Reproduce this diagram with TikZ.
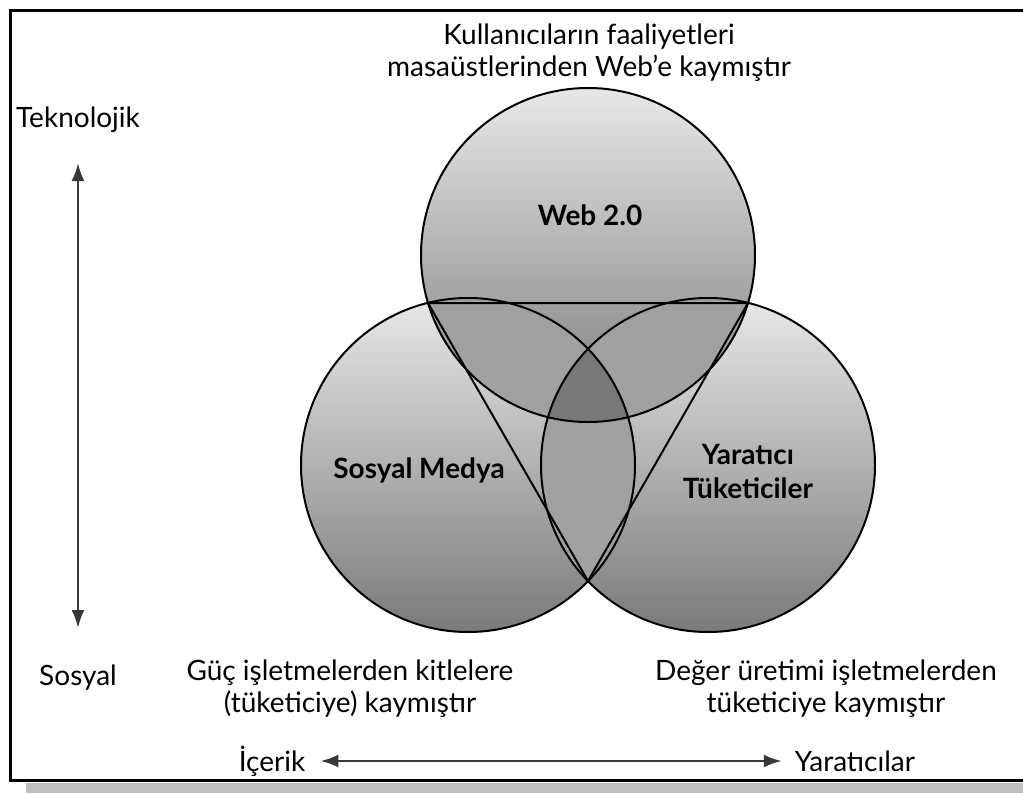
\documentclass[tikz,border=0pt]{standalone}
\usepackage{fontspec}
\setmainfont{Lato}
\usetikzlibrary{arrows.meta}

\begin{document}
\begin{tikzpicture}[x=1pt,y=-1pt,
         disk/.style={top color=black!9,bottom color=black!52},
         overlap/.style={fill=black!37},
         core/.style={fill=black!53},
         rim/.style={draw=black,line width=2pt},
         txt/.style={font=\fontsize{28}{32}\selectfont,align=center,inner sep=0pt},
         lbl/.style={font=\fontsize{28}{34}\selectfont\bfseries,align=center,inner sep=0pt},
         axis/.style={draw=black!78,line width=2.5pt,{Latex[length=18pt,width=13pt]}-{Latex[length=18pt,width=13pt]}}]
         \useasboundingbox (0,0) rectangle (1023,793);
         \fill[black!25] (26,783) rectangle (1023,793);
         \draw[line width=3pt] (1023,10) -- (10,10) -- (10,780) -- (1023,780);

         \coordinate (cWeb) at (588,255);
         \coordinate (cSos) at (468,465);
         \coordinate (cYar) at (708,465);
         \coordinate (pL) at (428,303);
         \coordinate (pR) at (748,303);
         \coordinate (pB) at (588,581);

         \shade[disk] (cWeb) circle[radius=167];
         \shade[disk] (cSos) circle[radius=167];
         \shade[disk] (cYar) circle[radius=167];
         \begin{scope}
            \clip (cWeb) circle[radius=167];
            \fill[overlap] (cSos) circle[radius=167];
            \fill[overlap] (cYar) circle[radius=167];
         \end{scope}
         \begin{scope}
            \clip (cSos) circle[radius=167];
            \fill[overlap] (cYar) circle[radius=167];
            \clip (cYar) circle[radius=167];
            \fill[core] (cWeb) circle[radius=167];
         \end{scope}
         \draw[rim] (cWeb) circle[radius=167];
         \draw[rim] (cSos) circle[radius=167];
         \draw[rim] (cYar) circle[radius=167];
         \draw[rim,line join=round] (pL) -- (pR) -- (pB) -- cycle;

         \node[lbl] (web) at (590,215) {Web 2.0};
         \node[lbl] (sosyal) at (419,470) {Sosyal Medya};
         \node[lbl] (yaratici) at (748,471) {Yaratıcı\\Tüketiciler};

         \node[txt] (ust) at (589,53) {Kullanıcıların faaliyetleri\\masaüstlerinden Web’e kaymıştır};
         \node[txt] (tek) at (78,120) {Teknolojik};
         \node[txt] (sos) at (78,678) {Sosyal};
         \node[txt] (guc) at (350,689) {Güç işletmelerden kitlelere\\(tüketiciye) kaymıştır};
         \node[txt] (deger) at (826,689) {Değer üretimi işletmelerden\\tüketiciye kaymıştır};
         \node[txt,inner xsep=15pt] (icerik) at (272,761) {İçerik};
         \node[txt,inner xsep=13pt] (yaraticilar) at (855,761) {Yaratıcılar};

         \coordinate (tUst) at (78,163);
         \coordinate (tAlt) at (78,628);
         \draw[axis] (tUst) -- (tAlt);
         \draw[axis] (icerik) -- (yaraticilar);
      \end{tikzpicture}
\end{document}
